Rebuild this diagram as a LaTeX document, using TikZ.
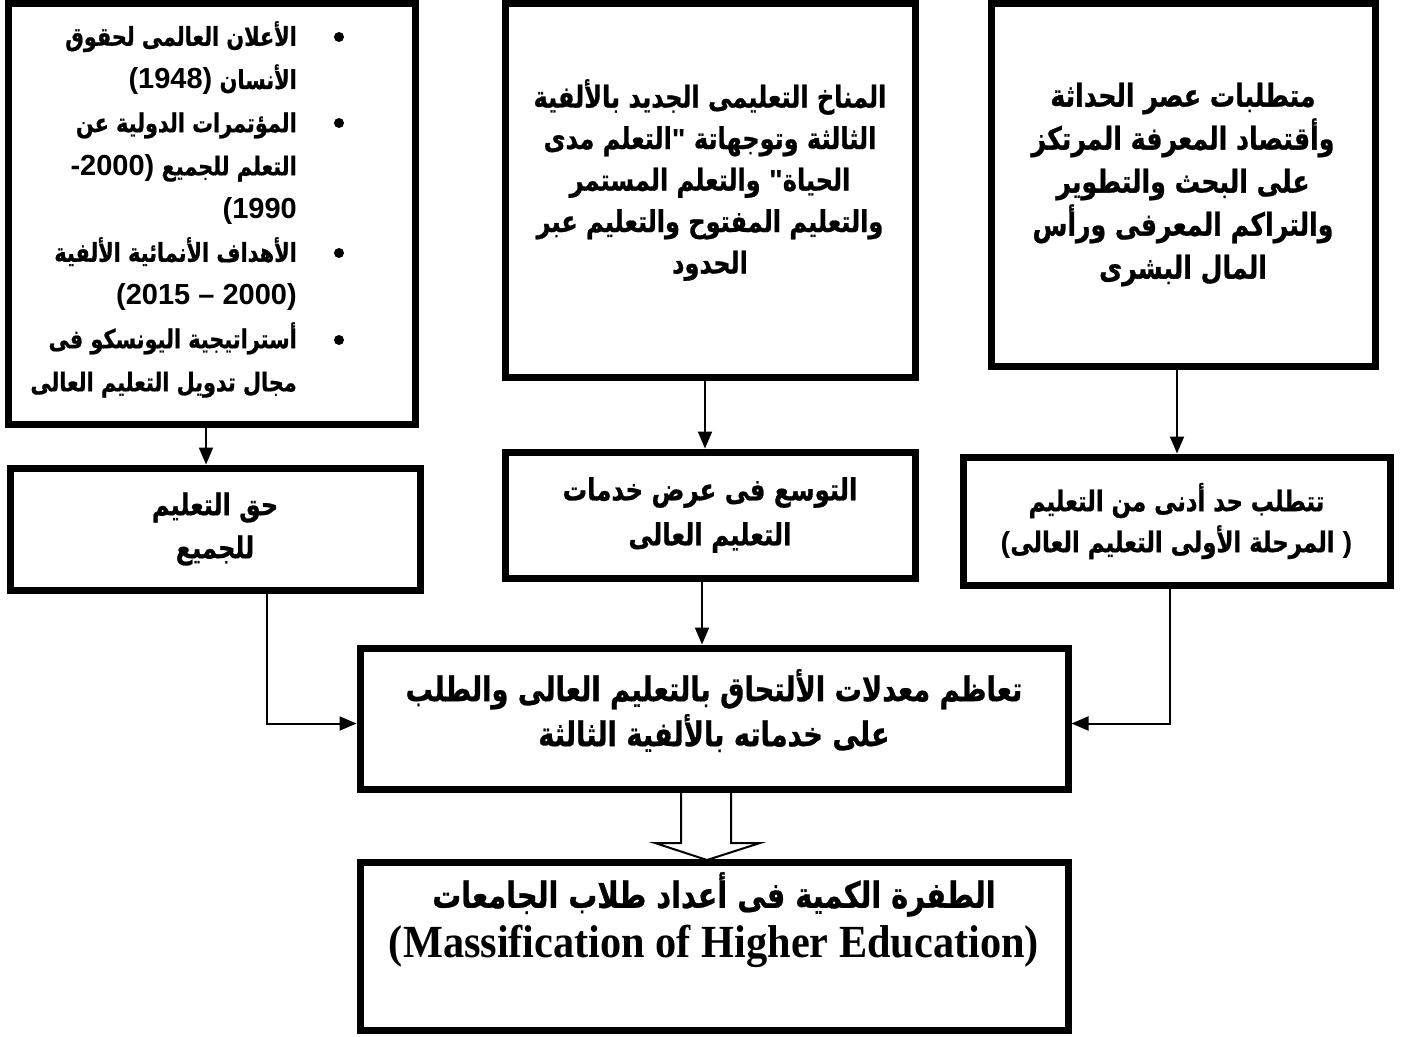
\documentclass[tikz,border=0pt]{standalone}
\usepackage{fontspec}
\newfontfamily\arabicfont[Script=Arabic,FakeStretch=0.8,BoldFeatures={FakeBold=0.8}]{DejaVu Sans}
\newfontfamily\numfont{Liberation Sans}
\newfontfamily\latinfont[FakeStretch=0.92]{Liberation Serif}
\TeXXeTstate=1
\usetikzlibrary{arrows.meta}
\newcommand{\artxt}[1]{\beginR #1\endR}
\newcommand{\lrtxt}[1]{\mbox{\numfont\bfseries\fontsize{29}{43}\selectfont #1}}
\begin{document}
\begin{tikzpicture}[x=1pt,y=-1pt,
  box/.style={draw, line width=7pt, rectangle, inner sep=0pt, outer sep=0pt, align=center},
  txt/.style 2 args={inner sep=0pt, align=center, font=\arabicfont\bfseries\fontsize{#1}{#2}\selectfont},
  conn/.style={line width=2pt, -{Triangle[length=17pt,width=14pt]}, shorten >=3.5pt},
  dot/.style={circle, fill=black, inner sep=0pt, minimum size=10pt},
  bigarrow/.style={line width=2pt, fill=white, line join=miter}]
\useasboundingbox (0,0) rectangle (1407,1036);
% top row
\node [box, minimum width=407pt, minimum height=421pt] (decl) at (211.5,213.5) {};
\node [txt={26}{43.2}, anchor=north east, align=right] (decltxt) at (297,21) {
\artxt{الأعلان العالمى لحقوق}\\
\artxt{الأنسان \lrtxt{(1948)}}\\
\artxt{المؤتمرات الدولية عن}\\
\artxt{التعلم للجميع \lrtxt{-2000)}}\\
\lrtxt{(1990}\\
\artxt{الأهداف الأنمائية الألفية}\\
\lrtxt{(2015 – 2000)}\\
\artxt{أستراتيجية اليونسكو فى}\\
\artxt{مجال تدويل التعليم العالى}};
\node [dot] (b1) at (339,37) {};
\node [dot] (b2) at (339,123) {};
\node [dot] (b3) at (339,253) {};
\node [dot] (b4) at (339,340) {};
\node [box, minimum width=410pt, minimum height=374pt] (climate) at (710,190) {};
\node [txt={30}{41.5}] (climatetxt) at ([yshift=10pt]climate.center) {
\artxt{المناخ التعليمى الجديد بالألفية}\\
\artxt{الثالثة وتوجهاتة \lrtxt{"}التعلم مدى}\\
\artxt{الحياة\lrtxt{"} والتعلم المستمر}\\
\artxt{والتعليم المفتوح والتعليم عبر}\\
\artxt{الحدود}};
\node [box, minimum width=384pt, minimum height=363pt, txt={31.5}{43}] (modern) at (1183,184.5) {
\artxt{متطلبات عصر الحداثة}\\
\artxt{وأقتصاد المعرفة المرتكز}\\
\artxt{على البحث والتطوير}\\
\artxt{والتراكم المعرفى ورأس}\\
\artxt{المال البشرى}};
% middle row
\node [box, minimum width=410pt, minimum height=122pt, txt={30}{43}] (right) at (215,529) {
\artxt{حق التعليم}\\
\artxt{للجميع}};
\node [box, minimum width=410pt, minimum height=126pt, txt={30.5}{45}] (expand) at (710,515) {
\artxt{التوسع فى عرض خدمات}\\
\artxt{التعليم العالى}};
\node [box, minimum width=427pt, minimum height=128pt, txt={28.5}{41}] (mineduc) at (1176.5,521) {
\artxt{تتطلب حد أدنى من التعليم}\\
\artxt{\lrtxt{)} المرحلة الأولى التعليم العالى\lrtxt{(}}};
% bottom
\node [box, minimum width=708pt, minimum height=141pt] (enrol) at (714,718.5) {};
\node [txt={34}{45}] (enroltxt) at ([yshift=8pt]enrol.center) {
\artxt{تعاظم معدلات الألتحاق بالتعليم العالى والطلب}\\
\artxt{على خدماته بالألفية الثالثة}};
\node [box, minimum width=708pt, minimum height=168pt] (mass) at (714,946) {};
\node [txt={36}{50}] (masstxt) at ([yshift=26pt]mass.center) {
\artxt{الطفرة الكمية فى أعداد طلاب الجامعات}\\
{\latinfont\bfseries\fontsize{46}{50}\selectfont (Massification of Higher Education)}};
% connectors
\draw [conn] ([xshift=-5.5pt]decl.south) -- ([xshift=-9pt]right.north);
\draw [conn] ([xshift=-5pt]climate.south) -- ([xshift=-5pt]expand.north);
\draw [conn] ([xshift=-6pt]modern.south) -- ([xshift=0.5pt]mineduc.north);
\draw [conn] ([xshift=-8pt]expand.south) -- ([xshift=-12pt]enrol.north);
\draw [conn] ([xshift=52pt]right.south) |- ([yshift=-5pt]enrol.west);
\draw [conn] ([xshift=-6.5pt]mineduc.south) |- ([yshift=-5pt]enrol.east);
\draw [bigarrow] ([xshift=-33pt,yshift=-4pt]enrol.south) -- ++(0,50) -- ++(-26,0) -- ++(52,17) -- ++(53,-17) -- ++(-29,0) -- ++(0,-50);
\end{tikzpicture}
\end{document}
